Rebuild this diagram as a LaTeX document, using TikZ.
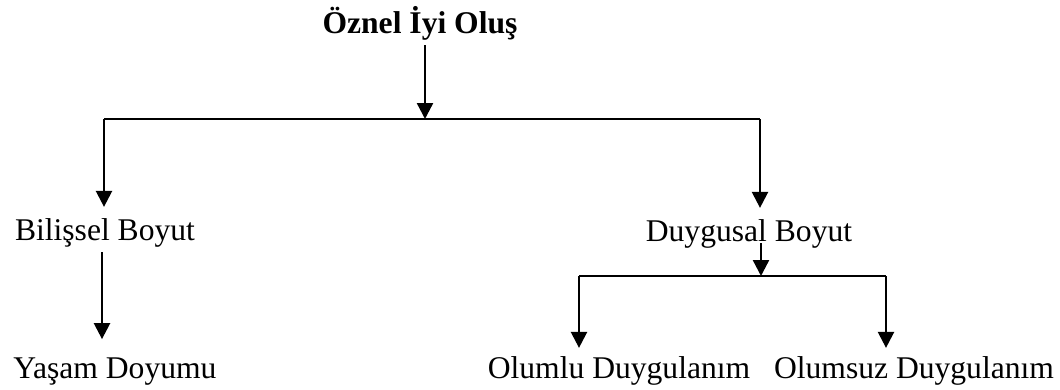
\documentclass[tikz,border=0pt]{standalone}
\usepackage{fontspec}
\setmainfont{Liberation Serif}
\usetikzlibrary{arrows.meta}

\begin{document}
\begin{tikzpicture}[x=1pt,y=-1pt,
  lbl/.style={inner sep=0pt, anchor=base, font=\fontsize{31.6}{36}\selectfont},
  link/.style={line width=2.4pt},
  arr/.style={line width=2.4pt, -{Triangle[length=16pt,width=16pt]}}]
\useasboundingbox (0,0) rectangle (1060,389);
% labels
\node[lbl, font=\fontsize{31.6}{36}\selectfont\bfseries] (title) at (420,33) {Öznel İyi Oluş};
\node[lbl] (cog) at (105,240) {Bilişsel Boyut};
\node[lbl] (aff) at (749,241) {Duygusal Boyut};
\node[lbl] (ls) at (115,378) {Yaşam Doyumu};
\node[lbl] (pa) at (619,378) {Olumlu Duygulanım};
\node[lbl] (na) at (914,378) {Olumsuz Duygulanım};
% branch points
\coordinate (top) at (425,119);
\coordinate (topL) at (104,119);
\coordinate (topR) at (760,119);
\coordinate (sub) at (761,276);
\coordinate (subL) at (579,276);
\coordinate (subR) at (886,276);
% first level
\draw[arr, shorten <=5pt] (title.south -| top) -- (top);
\draw[link] (topL) -- (topR);
\draw[arr, shorten >=11pt] (topL) -- (topL |- cog.north);
\draw[arr, shorten >=11pt] (topR) -- (topR |- aff.north);
% cognitive side
\draw[arr, shorten <=5pt, shorten >=18pt] (cog.south -| 102,0) -- (ls.north -| 102,0);
% affective side
\draw[arr] ([yshift=-2pt]aff.base -| sub) -- (sub);
\draw[link] (subL) -- (subR);
\draw[arr, shorten >=8pt] (subL) -- (subL |- pa.north);
\draw[arr, shorten >=8pt] (subR) -- (subR |- na.north);
\end{tikzpicture}
\end{document}
